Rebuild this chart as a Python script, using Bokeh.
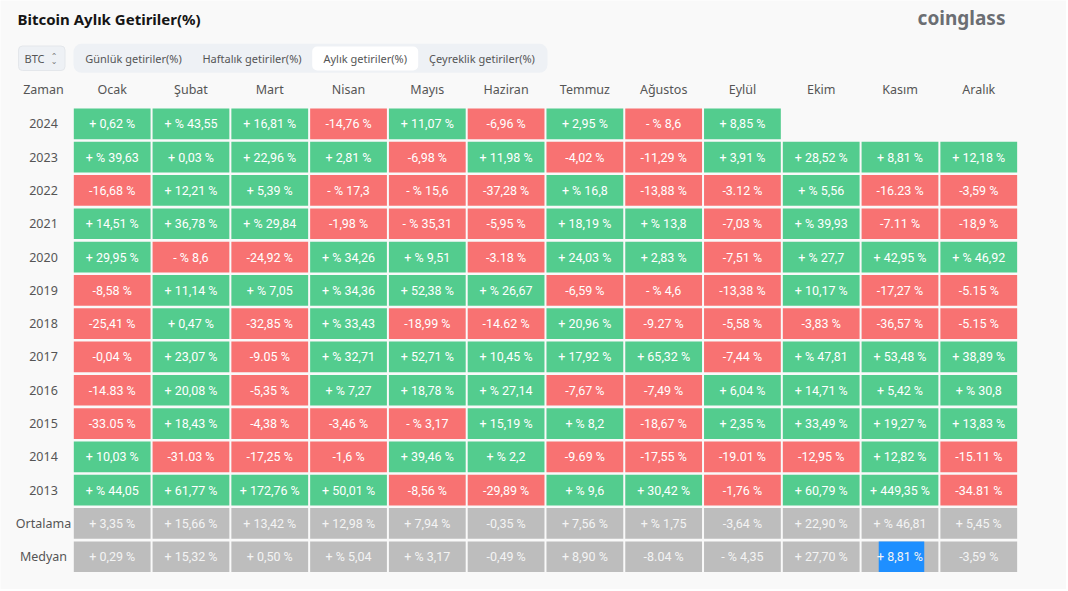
from bokeh.plotting import figure
from bokeh.models import Range1d, ColumnDataSource
from bokeh.core.properties import value
from bokeh.embed import file_html
from bokeh.resources import INLINE

title_text = "Bitcoin Aylık Getiriler(%)"
logo_text = "coinglass"
tabs = ["Günlük getiriler(%)", "Haftalık getiriler(%)", "Aylık getiriler(%)", "Çeyreklik getiriler(%)"]
active_tab = "Aylık getiriler(%)"
corner_label = "Zaman"
months = ["Ocak", "Şubat", "Mart", "Nisan", "Mayıs", "Haziran", "Temmuz",
          "Ağustos", "Eylül", "Ekim", "Kasım", "Aralık"]
row_labels = ["2024", "2023", "2022", "2021", "2020", "2019", "2018", "2017",
              "2016", "2015", "2014", "2013", "Ortalama", "Medyan"]
summary_rows = ["Ortalama", "Medyan"]

r2024 = ["+ 0,62 %", "+ % 43,55", "+ 16,81 %", "-14,76 %", "+ 11,07 %", "-6,96 %", "+ 2,95 %", "- % 8,6", "+ 8,85 %", None, None, None]
r2023 = ["+ % 39,63", "+ 0,03 %", "+ 22,96 %", "+ 2,81 %", "-6,98 %", "+ 11,98 %", "-4,02 %", "-11,29 %", "+ 3,91 %", "+ 28,52 %", "+ 8,81 %", "+ 12,18 %"]
r2022 = ["-16,68 %", "+ 12,21 %", "+ 5,39 %", "- % 17,3", "- % 15,6", "-37,28 %", "+ % 16,8", "-13,88 %", "-3.12 %", "+ % 5,56", "-16.23 %", "-3,59 %"]
r2021 = ["+ 14,51 %", "+ 36,78 %", "+ % 29,84", "-1,98 %", "- % 35,31", "-5,95 %", "+ 18,19 %", "+ % 13,8", "-7,03 %", "+ % 39,93", "-7.11 %", "-18,9 %"]
r2020 = ["+ 29,95 %", "- % 8,6", "-24,92 %", "+ % 34,26", "+ % 9,51", "-3.18 %", "+ 24,03 %", "+ 2,83 %", "-7,51 %", "+ % 27,7", "+ 42,95 %", "+ % 46,92"]
r2019 = ["-8,58 %", "+ 11,14 %", "+ % 7,05", "+ % 34,36", "+ 52,38 %", "+ % 26,67", "-6,59 %", "- % 4,6", "-13,38 %", "+ 10,17 %", "-17,27 %", "-5.15 %"]
r2018 = ["-25,41 %", "+ 0,47 %", "-32,85 %", "+ % 33,43", "-18,99 %", "-14.62 %", "+ 20,96 %", "-9.27 %", "-5,58 %", "-3,83 %", "-36,57 %", "-5.15 %"]
r2017 = ["-0,04 %", "+ 23,07 %", "-9.05 %", "+ % 32,71", "+ 52,71 %", "+ 10,45 %", "+ 17,92 %", "+ 65,32 %", "-7,44 %", "+ % 47,81", "+ 53,48 %", "+ 38,89 %"]
r2016 = ["-14.83 %", "+ 20,08 %", "-5,35 %", "+ % 7,27", "+ 18,78 %", "+ % 27,14", "-7,67 %", "-7,49 %", "+ 6,04 %", "+ 14,71 %", "+ 5,42 %", "+ % 30,8"]
r2015 = ["-33.05 %", "+ 18,43 %", "-4,38 %", "-3,46 %", "- % 3,17", "+ 15,19 %", "+ % 8,2", "-18,67 %", "+ 2,35 %", "+ 33,49 %", "+ 19,27 %", "+ 13,83 %"]
r2014 = ["+ 10,03 %", "-31.03 %", "-17,25 %", "-1,6 %", "+ 39,46 %", "+ % 2,2", "-9.69 %", "-17,55 %", "-19.01 %", "-12,95 %", "+ 12,82 %", "-15.11 %"]
r2013 = ["+ % 44,05", "+ 61,77 %", "+ 172,76 %", "+ 50,01 %", "-8,56 %", "-29,89 %", "+ % 9,6", "+ 30,42 %", "-1,76 %", "+ 60,79 %", "+ 449,35 %", "-34.81 %"]
ortalama = ["+ 3,35 %", "+ 15,66 %", "+ 13,42 %", "+ 12,98 %", "+ 7,94 %", "-0,35 %", "+ 7,56 %", "+ % 1,75", "-3,64 %", "+ 22,90 %", "+ % 46,81", "+ 5,45 %"]
medyan = ["+ 0,29 %", "+ 15,32 %", "+ 0,50 %", "+ % 5,04", "+ % 3,17", "-0,49 %", "+ 8,90 %", "-8.04 %", "- % 4,35", "+ 27,70 %", "+ 8,81 %", "-3,59 %"]
highlight = ("Medyan", "Kasım")

table = [r2024, r2023, r2022, r2021, r2020, r2019, r2018, r2017, r2016,
         r2015, r2014, r2013, ortalama, medyan]

# ---- layout (page pixel coordinates) ----
W, H = 1066, 589
X0, PX = 72.3, 78.78
Y0, PY = 106.7, 33.3
GAP_X, GAP_Y = 2.0, 2.6
LABEL_X = 43
HEADER_Y = 89

GREEN, RED, GRAY = "#53cc8e", "#f87272", "#bdbdbd"
BG = "#f9f9f9"
TXT = "#555555"

p = figure(width=W, height=H, output_backend="svg", toolbar_location=None,
           x_range=Range1d(0, W), y_range=Range1d(H, 0),
           min_border=0, outline_line_color=None,
           background_fill_color=BG, border_fill_color=BG)
p.axis.visible = False
p.grid.visible = False

# cells
xs, ys, labels, colors, tcolors = [], [], [], [], []
for r, rl in enumerate(row_labels):
    for c, m in enumerate(months):
        lab = table[r][c]
        if lab is None:
            continue
        xs.append(X0 + (c + 0.5) * PX)
        ys.append(Y0 + (r + 0.5) * PY)
        labels.append(lab)
        if rl in summary_rows:
            colors.append(GRAY)
            tcolors.append("#f4f4f4")
        else:
            colors.append(GREEN if lab.startswith("+") else RED)
            tcolors.append("#ffffff")
src = ColumnDataSource(dict(x=xs, y=ys, text=labels, color=colors, tcolor=tcolors))
p.rect("x", "y", width=PX - GAP_X, height=PY - GAP_Y, source=src,
       fill_color="color", line_color=None)

# selection highlight
hr = row_labels.index(highlight[0])
hc = months.index(highlight[1])
p.rect([X0 + (hc + 0.5) * PX + 1.5], [Y0 + (hr + 0.5) * PY], width=45.5,
       height=PY - GAP_Y, fill_color="#1e8fff", line_color=None)

p.text("x", "y", text="text", source=src, text_align="center", text_baseline="middle",
       text_font=value("Roboto"), text_font_size="12.5px", text_color="tcolor")

# header row
hx = [X0 + (c + 0.5) * PX for c in range(len(months))]
p.text([LABEL_X] + hx, [HEADER_Y] * (len(months) + 1), text=[corner_label] + months,
       text_align="center", text_baseline="middle", text_font=value("Noto Sans"),
       text_font_size="12.5px", text_color=TXT)

# row labels
p.text([LABEL_X] * len(row_labels), [Y0 + (r + 0.5) * PY for r in range(len(row_labels))],
       text=row_labels, text_align="center", text_baseline="middle",
       text_font=value("Noto Sans"), text_font_size="12.5px", text_color=TXT)

# title and logo
p.text([17], [18], text=[title_text], text_align="left", text_baseline="middle",
       text_font=value("Noto Sans"), text_font_size="15px", text_font_style="bold",
       text_color="#151515")
p.text([961], [17], text=[logo_text], text_align="center", text_baseline="middle",
       text_font=value("Noto Sans"), text_font_size="19px", text_font_style="bold",
       text_color="#6b6e73")

# BTC selector
p.quad(left=[18], right=[64.5], top=[45.5], bottom=[70], fill_color="#eef1f5",
       line_color="#e4e7eb", border_radius=4)
p.text([24], [58], text=["BTC"], text_align="left", text_baseline="middle",
       text_font=value("Noto Sans"), text_font_size="11px", text_color=TXT)
p.text([53.5, 53.5], [55.5, 61], text=["⌃", "⌄"], text_align="center", text_baseline="middle",
       text_font=value("DejaVu Sans"), text_font_size="8px", text_color="#777777")

# tab group
tab_centers = [133, 251.5, 364.7, 481.5]
p.quad(left=[73], right=[547], top=[43.3], bottom=[72.3], fill_color="#eef1f5",
       line_color=None, border_radius=8)
ai = tabs.index(active_tab)
p.quad(left=[tab_centers[ai] - 53], right=[tab_centers[ai] + 53], top=[46], bottom=[70],
       fill_color="#ffffff", line_color=None, border_radius=5)
p.text(tab_centers, [58] * len(tabs), text=tabs, text_align="center", text_baseline="middle",
       text_font=value("Noto Sans"), text_font_size="11px", text_color=TXT)

open("out.html", "w").write(file_html(p, INLINE))
